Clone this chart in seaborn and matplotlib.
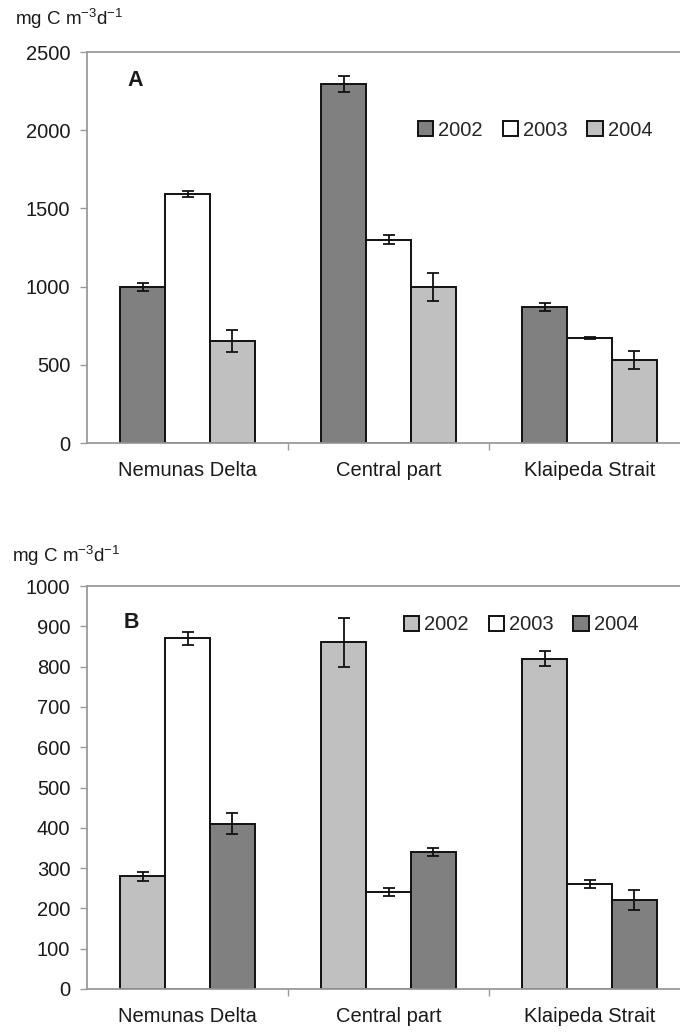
import numpy as np
import pandas as pd
import matplotlib
matplotlib.use("Agg")
import matplotlib.pyplot as plt
import seaborn as sns

sites = ["Nemunas Delta", "Central part", "Klaipeda Strait"]
years = ["2002", "2003", "2004"]

# Panel A values (per year, across sites) and errors
a_2002 = [1000, 2295, 870]
a_2003 = [1590, 1300, 670]
a_2004 = [650, 1000, 530]
a_err_2002 = [25, 50, 25]
a_err_2003 = [20, 30, 6]
a_err_2004 = [70, 90, 60]

# Panel B values and errors
b_2002 = [280, 860, 820]
b_2003 = [870, 240, 260]
b_2004 = [410, 340, 220]
b_err_2002 = [11, 60, 18]
b_err_2003 = [17, 10, 10]
b_err_2004 = [26, 10, 25]

a_ticks = [0, 500, 1000, 1500, 2000, 2500]
b_ticks = [0, 100, 200, 300, 400, 500, 600, 700, 800, 900, 1000]

DARK = "#808080"
WHITE = "#ffffff"
LIGHT = "#c0c0c0"

sns.set_theme(style="white")
plt.rcParams["font.family"] = ["Liberation Sans", "DejaVu Sans"]
plt.rcParams["mathtext.fontset"] = "custom"
plt.rcParams["mathtext.rm"] = "Liberation Sans"
plt.rcParams["mathtext.it"] = "Liberation Sans"
plt.rcParams["mathtext.default"] = "regular"

FS = 14.5
TXT = "#1a1a1a"
SPINE = "#9a9a9a"


def make_df(v02, v03, v04, e02, e03, e04):
    rows = []
    for yr, vals, errs in zip(years, [v02, v03, v04], [e02, e03, e04]):
        for s, v, e in zip(sites, vals, errs):
            rows.append({"site": s, "year": yr, "value": v, "err": e})
    return pd.DataFrame(rows)


fig = plt.figure(figsize=(6.8, 10.34), dpi=100)
W, H = 680, 1034


def add_panel(df, palette, bottom_px, top_px, ymax, ticks, letter, letter_xy,
              legend_xy, ylab_xy):
    left_px, right_px = 87, 690
    ax = fig.add_axes([left_px / W, 1 - bottom_px / H,
                       (right_px - left_px) / W, (bottom_px - top_px) / H])
    sns.barplot(data=df, x="site", y="value", hue="year", order=sites,
                hue_order=years, palette=palette, width=0.67, gap=0,
                edgecolor="#111111", linewidth=1.4, errorbar=None, ax=ax,
                saturation=1)
    # error bars
    for cont, yr in zip(ax.containers, years):
        sub = df[df["year"] == yr].set_index("site").loc[sites]
        xs = [p.get_x() + p.get_width() / 2 for p in cont.patches]
        ax.errorbar(xs, sub["value"].values, yerr=sub["err"].values,
                    fmt="none", ecolor="#111111", elinewidth=1.3,
                    capsize=4, capthick=1.3, zorder=5)
    ax.set_xlim(-0.5, 2.5)
    ax.set_ylim(0, ymax)
    ax.set_yticks(ticks)
    ax.set_yticklabels([str(t) for t in ticks], fontsize=FS, color=TXT)
    ax.set_xticks(range(len(sites)))
    ax.set_xticklabels(sites, fontsize=FS, color=TXT)
    ax.set_xticks([0.5, 1.5], minor=True)
    ax.tick_params(axis="x", which="major", length=0, pad=13)
    ax.tick_params(axis="x", which="minor", length=5, width=1, color=SPINE,
                   direction="out", bottom=True)
    ax.tick_params(axis="y", length=5, width=1, color=SPINE, direction="out",
                   left=True, pad=7)
    ax.set_xlabel("")
    ax.set_ylabel("")
    for sp in ["left", "bottom", "top"]:
        ax.spines[sp].set_color(SPINE)
        ax.spines[sp].set_linewidth(1.3)
        ax.spines[sp].set_visible(True)
    ax.spines["right"].set_visible(False)
    handles, labels = ax.get_legend_handles_labels()
    if ax.get_legend() is not None:
        ax.get_legend().remove()
    fig.legend(handles, labels, loc="center",
               bbox_to_anchor=(legend_xy[0] / W, 1 - legend_xy[1] / H),
               ncol=3, frameon=False, fontsize=FS, handlelength=0.75,
               handleheight=0.75, handletextpad=0.25, columnspacing=1.0,
               borderpad=0)
    fig.text(letter_xy[0] / W, 1 - letter_xy[1] / H, letter, fontsize=FS + 1,
             fontweight="bold", color=TXT, ha="left", va="center")
    fig.text(ylab_xy[0] / W, 1 - ylab_xy[1] / H, r"mg C m$^{-3}$d$^{-1}$",
             fontsize=FS - 1, color=TXT, ha="left", va="center")
    return ax


df_a = make_df(a_2002, a_2003, a_2004, a_err_2002, a_err_2003, a_err_2004)
df_b = make_df(b_2002, b_2003, b_2004, b_err_2002, b_err_2003, b_err_2004)

add_panel(df_a, [DARK, WHITE, LIGHT], 443, 52, 2500, a_ticks, "A", (127, 80),
          (535, 130), (15, 19))
add_panel(df_b, [LIGHT, WHITE, DARK], 989, 586, 1000, b_ticks, "B", (124, 622),
          (521, 625), (12, 556))

fig.savefig("out.png", dpi=100, facecolor="white")
